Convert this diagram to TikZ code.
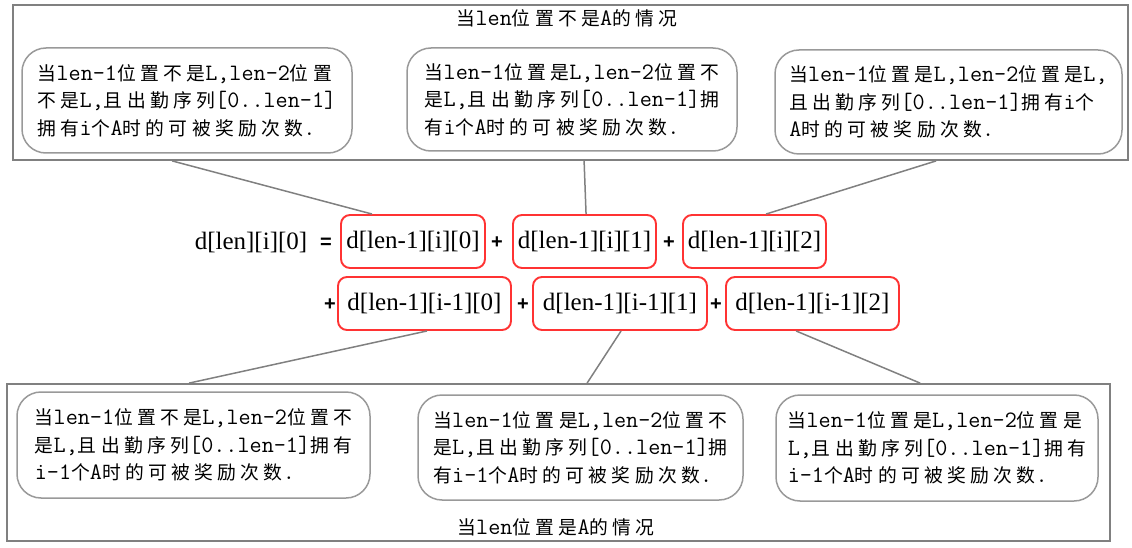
\documentclass[tikz,border=0pt]{standalone}
\usepackage{fontspec}
\newfontfamily\cjk[Scale=0.8,LetterSpace=23]{Noto Sans CJK SC}
\newfontfamily\fml{Liberation Serif}
\newfontfamily\opf{Liberation Sans}
\usetikzlibrary{calc}
\newcommand\cj[1]{{\cjk #1}}
\tikzset{
  x=1pt,y=-1pt,
  outerbox/.style={draw=black!50,line width=1.8pt},
  casebox/.style={draw=black!40,line width=1.5pt,rounded corners=24pt,align=left,inner sep=0pt,
     font=\ttfamily\fontsize{23.5}{27.5}\selectfont},
  termbox/.style={draw=red!80!white,line width=1.9pt,rounded corners=9pt,inner sep=0pt,minimum height=53pt,
     font=\fml\fontsize{25}{28}\selectfont},
  plus/.style={font=\opf\bfseries\fontsize{20}{22}\selectfont,inner sep=0pt},
  conn/.style={draw=black!50,line width=1.5pt},
  title/.style={font=\ttfamily\fontsize{23.5}{27.5}\selectfont,inner sep=0pt}
}
\begin{document}
\begin{tikzpicture}
\useasboundingbox (0,0) rectangle (1132,548);
% outer boxes
\node[outerbox,minimum width=1115pt,minimum height=155pt,inner sep=0pt] (top) at (570.5,82.5) {};
\node[outerbox,minimum width=1103pt,minimum height=157pt,inner sep=0pt] (bot) at (558.5,462.5) {};
\node[title] (ttop) at (567,18) {\cj{当}len\cj{位置不是}A\cj{的情况}};
\node[title] (tbot) at (556,527) {\cj{当}len\cj{位置是}A\cj{的情况}};
% case boxes
\node[casebox,minimum width=330pt,minimum height=105pt] (b1) at (187,100.5)
  {\cj{当}len-1\cj{位置不是}L,len-2\cj{位置}\\\cj{不是}L,\cj{且出勤序列}[0..len-1]\\\cj{拥有}i\cj{个}A\cj{时的可被奖励次数}.};
\node[casebox,minimum width=330pt,minimum height=103pt] (b2) at (572,99.5)
  {\cj{当}len-1\cj{位置是}L,len-2\cj{位置不}\\\cj{是}L,\cj{且出勤序列}[0..len-1]\cj{拥}\\\cj{有}i\cj{个}A\cj{时的可被奖励次数}.};
\node[casebox,minimum width=347pt,minimum height=104pt] (b3) at (948.5,102)
  {\cj{当}len-1\cj{位置是}L,len-2\cj{位置是}L,\\\cj{且出勤序列}[0..len-1]\cj{拥有}i\cj{个}\\A\cj{时的可被奖励次数}.};
\node[casebox,minimum width=353pt,minimum height=106pt] (b4) at (193.5,445)
  {\cj{当}len-1\cj{位置不是}L,len-2\cj{位置不}\\\cj{是}L,\cj{且出勤序列}[0..len-1]\cj{拥有}\\i-1\cj{个}A\cj{时的可被奖励次数}.};
\node[casebox,minimum width=325pt,minimum height=105pt] (b5) at (580.5,447.5)
  {\cj{当}len-1\cj{位置是}L,len-2\cj{位置不}\\\cj{是}L,\cj{且出勤序列}[0..len-1]\cj{拥}\\\cj{有}i-1\cj{个}A\cj{时的可被奖励次数}.};
\node[casebox,minimum width=322pt,minimum height=106pt] (b6) at (937,448)
  {\cj{当}len-1\cj{位置是}L,len-2\cj{位置是}\\L,\cj{且出勤序列}[0..len-1]\cj{拥有}\\i-1\cj{个}A\cj{时的可被奖励次数}.};
% formula
\node[font=\fml\fontsize{25}{28}\selectfont,inner sep=0pt] (lhs) at (251,242) {d[len][i][0]};
\node[plus] (eq) at (326,243) {=};
\node[termbox,minimum width=144pt] (r1) at (413,241.5) {d[len-1][i][0]};
\node[plus] (p1) at (497,243) {+};
\node[termbox,minimum width=143pt] (r2) at (584.5,241.5) {d[len-1][i][1]};
\node[plus] (p2) at (669,243) {+};
\node[termbox,minimum width=143pt] (r3) at (754.5,241.5) {d[len-1][i][2]};
\node[plus] (p3) at (330,305) {+};
\node[termbox,minimum width=173pt] (r4) at (424.5,303.5) {d[len-1][i-1][0]};
\node[plus] (p4) at (523,305) {+};
\node[termbox,minimum width=174pt] (r5) at (620,303.5) {d[len-1][i-1][1]};
\node[plus] (p5) at (716,305) {+};
\node[termbox,minimum width=173pt] (r6) at (812.5,303.5) {d[len-1][i-1][2]};
% connectors
\draw[conn] ([xshift=160pt]top.south west) -- ([xshift=32pt]r1.north west);
\draw[conn] ([xshift=572pt]top.south west) -- ([xshift=74pt]r2.north west);
\draw[conn] ([xshift=924pt]top.south west) -- ([xshift=84pt]r3.north west);
\draw[conn] ([xshift=90pt]r4.south west) -- ([xshift=183pt]bot.north west);
\draw[conn] ([xshift=89pt]r5.south west) -- ([xshift=581pt]bot.north west);
\draw[conn] ([xshift=71pt]r6.south west) -- ([xshift=914pt]bot.north west);
\end{tikzpicture}
\end{document}
